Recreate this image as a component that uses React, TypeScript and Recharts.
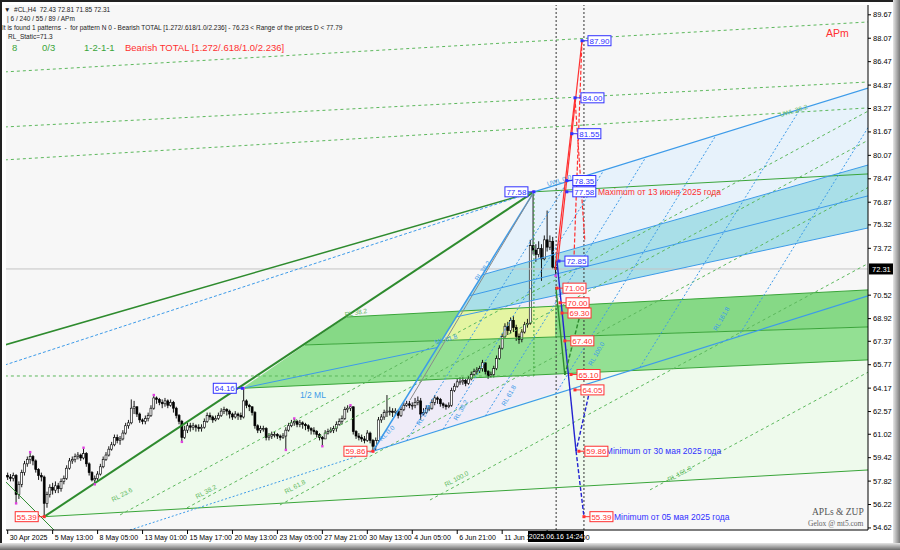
import React from "react";
import {
  ComposedChart,
  XAxis,
  YAxis,
  Bar,
  Area,
  Scatter,
  ReferenceLine,
  ReferenceDot,
} from "recharts";

// H4 candles, index 0 = 30 Apr 2025
const firstOpen = 58.2;
const closes = [
  58.1, 58.0, 58.2, 56.9, 57.6, 58.4, 59.0, 59.3, 59.5, 59.2, 58.6, 58.2, 58.1,
  56.3, 56.9, 57.4, 57.2, 57.5, 57.3, 57.8, 58.0, 58.7, 59.2, 59.3, 59.5, 59.6,
  59.4, 59.7, 59.0, 58.4, 57.9, 58.0, 58.3, 58.8, 59.3, 59.6, 60.0, 60.3, 60.8,
  60.6, 60.7, 61.1, 61.6, 61.8, 62.8, 62.9, 62.4, 62.0, 61.9, 62.1, 62.3, 62.8,
  63.5, 63.4, 63.2, 63.1, 63.3, 63.0, 63.2, 62.8, 62.3, 61.9, 60.8, 61.3, 61.6,
  61.5, 61.6, 61.5, 61.4, 61.5, 61.9, 62.3, 62.2, 62.0, 62.1, 62.3, 62.6, 62.7,
  62.6, 62.4, 62.2, 62.4, 62.3, 62.2, 63.3, 63.0, 62.9, 62.5, 61.6, 61.3, 61.4,
  61.4, 60.8, 60.9, 61.0, 61.0, 60.9, 60.8, 60.9, 61.3, 61.6, 61.8, 61.9, 61.7,
  61.8, 61.7, 61.6, 61.4, 61.3, 61.2, 61.0, 60.8, 60.7, 61.1, 61.2, 61.3, 61.4,
  61.7, 61.9, 62.1, 62.7, 62.8, 62.9, 61.2, 60.9, 60.8, 60.7, 60.6, 61.1, 60.6,
  60.2, 60.6, 62.0, 62.2, 62.5, 62.6, 62.6, 62.5, 62.6, 62.3, 62.7, 63.0, 63.1,
  63.0, 63.0, 63.2, 63.3, 62.4, 62.5, 62.8, 62.8, 63.2, 63.5, 63.4, 63.1, 63.0,
  62.9, 63.0, 64.0, 64.3, 64.6, 64.6, 64.7, 64.5, 64.8, 65.1, 65.3, 65.4, 65.5,
  65.9, 65.3, 65.0, 65.1, 65.5, 66.2, 66.9, 67.7, 68.4, 68.1, 68.8, 68.3, 67.7,
  67.5, 68.0, 68.5, 68.6, 73.9, 73.6, 73.3, 73.7, 73.0, 74.3, 73.8, 74.2, 72.43, 72.31,
];
const highs = [
  58.4, 58.3, 58.4, 58.3, 57.8, 58.6, 59.2, 59.5, 59.8, 59.6, 59.3, 58.7, 58.4,
  58.2, 57.1, 57.6, 57.7, 57.8, 57.7, 58.0, 58.2, 58.9, 59.4, 59.5, 59.7, 59.8,
  59.7, 60.1, 59.8, 59.1, 58.5, 58.2, 58.5, 59.0, 59.5, 59.8, 60.2, 60.5, 61.0,
  61.0, 60.9, 61.3, 61.8, 62.0, 63.4, 63.3, 62.9, 62.5, 62.1, 62.3, 62.5, 63.0,
  63.7, 63.6, 63.5, 63.4, 63.5, 63.4, 63.4, 63.3, 62.9, 62.4, 62.0, 61.6, 61.8,
  61.8, 61.8, 61.7, 61.7, 61.7, 62.1, 62.5, 62.5, 62.3, 62.3, 62.5, 62.8, 62.9,
  62.8, 62.7, 62.5, 62.6, 62.5, 62.5, 64.16, 63.4, 63.1, 62.9, 62.6, 61.7, 61.6,
  61.6, 61.5, 61.1, 61.2, 61.2, 61.1, 61.0, 61.1, 61.5, 61.8, 62.0, 62.1, 62.0,
  62.0, 61.9, 61.8, 61.7, 61.5, 61.5, 61.3, 61.1, 60.9, 61.3, 61.4, 61.5, 61.6,
  61.9, 62.1, 62.3, 62.9, 63.0, 63.0, 62.9, 61.3, 61.1, 61.0, 60.9, 61.3, 61.2,
  60.7, 60.8, 62.2, 62.4, 62.7, 63.7, 62.9, 62.8, 62.8, 62.7, 62.9, 63.2, 63.3,
  63.3, 63.2, 63.5, 63.6, 63.5, 62.8, 63.0, 63.0, 63.4, 63.7, 63.6, 63.5, 63.2,
  63.1, 63.2, 64.2, 64.5, 64.8, 64.9, 64.9, 64.8, 65.0, 65.3, 65.5, 65.6, 65.7,
  66.1, 65.9, 65.4, 65.3, 65.7, 66.4, 67.1, 67.9, 68.6, 68.7, 69.0, 69.1, 68.5,
  67.9, 68.2, 68.7, 68.9, 74.3, 77.58, 74.0, 74.2, 74.0, 74.6, 76.3, 74.6, 74.5, 72.81,
];
const lows = [
  57.9, 57.8, 57.8, 56.3, 56.6, 57.4, 58.2, 58.8, 59.0, 58.9, 58.4, 57.9, 57.8,
  55.39, 56.0, 56.7, 56.9, 57.0, 57.0, 57.1, 57.6, 57.9, 58.6, 59.0, 59.1, 59.3,
  59.2, 59.3, 58.8, 58.2, 57.8, 57.6, 57.8, 58.2, 58.7, 59.2, 59.5, 59.9, 60.2,
  60.4, 60.3, 60.6, 61.0, 61.4, 61.7, 62.4, 62.2, 61.8, 61.7, 61.7, 61.9, 62.2,
  62.7, 63.1, 63.0, 62.8, 62.9, 62.8, 62.9, 62.5, 62.1, 61.7, 60.5, 60.7, 61.1,
  61.2, 61.3, 61.2, 61.2, 61.2, 61.4, 61.8, 62.0, 61.8, 61.9, 62.0, 62.2, 62.4,
  62.3, 62.1, 62.0, 62.1, 62.0, 62.0, 62.1, 62.8, 62.6, 62.3, 61.4, 61.1, 61.1,
  61.2, 60.6, 60.6, 60.7, 60.8, 60.7, 60.6, 60.7, 59.95, 61.2, 61.5, 61.6, 61.5,
  61.5, 61.4, 61.3, 61.2, 61.0, 61.0, 60.8, 60.6, 60.2, 60.8, 61.0, 61.1, 61.1,
  61.2, 61.6, 61.7, 62.0, 62.5, 62.6, 61.0, 60.7, 60.6, 60.5, 60.4, 60.5, 60.4,
  59.86, 59.9, 60.5, 61.8, 62.0, 62.2, 62.3, 62.2, 62.3, 62.1, 62.2, 62.6, 62.9,
  62.8, 62.7, 62.8, 63.0, 62.0, 62.3, 62.4, 62.6, 62.7, 63.0, 63.1, 62.9, 62.8,
  62.7, 62.8, 62.9, 63.9, 64.2, 64.4, 64.4, 64.3, 64.4, 64.7, 65.0, 65.1, 65.2,
  65.3, 65.1, 64.8, 64.9, 64.9, 65.4, 66.1, 66.8, 67.6, 67.8, 67.9, 68.0, 67.4,
  67.2, 67.3, 67.9, 68.3, 68.5, 73.3, 72.8, 73.1, 71.5, 72.9, 73.5, 73.6, 72.3, 71.85,
];

const dateTicks = [0, 16, 32, 48, 64, 80, 96, 112, 128, 144, 160, 176, 192];
const dateLabels = [
  "30 Apr 2025", "5 May 13:00", "8 May 05:00", "13 May 01:00", "15 May 17:00",
  "20 May 13:00", "23 May 05:00", "27 May 21:00", "30 May 13:00", "4 Jun 05:00",
  "6 Jun 21:00", "11 Jun 13:00", "16 Jun 05:00",
];
const priceTicks = [
  54.62, 56.22, 57.82, 59.42, 61.02, 62.57, 64.17, 65.77, 67.37, 68.92, 70.52,
  73.72, 75.32, 76.87, 78.47, 80.07, 81.67, 83.27, 84.87, 86.47, 88.07, 89.67,
];
const lastPrice = 72.31;

// swing points marked in magenta
const swings = [
  [3, 56.3], [8, 59.8], [27, 60.1], [31, 57.6], [52, 63.7], [62, 60.5], [84, 64.16],
  [99, 59.95], [102, 62.1], [112, 60.2], [122, 63.0], [130, 59.86], [187, 77.58], [195, 71.85],
];

// filled zones: upper chain / lower chain (bar, price)
const zones = [
  { fill: "#eefaec", up: [[13, 55.39], [83.5, 64.16], [306.2, 66.1]], lo: [[13, 55.39], [306.2, 58.58]] },
  { fill: "#efecf8", up: [[130, 59.86], [187.3, 77.58], [195.8, 72.79], [197.6, 64.05]], lo: [[130, 59.86], [197.6, 64.05]] },
  { fill: "#e7f2fb", up: [[168.8, 71.9], [187.3, 77.58], [306.2, 84.67]], lo: [[168.8, 71.9], [306.2, 79.41]] },
  { fill: "#a9dfe8", up: [[159.5, 69.03], [168.8, 71.9], [306.2, 79.41]], lo: [[159.5, 69.03], [306.2, 75.11]] },
  { fill: "#86d986", up: [[105.8, 67.12], [120.7, 69.03], [306.2, 70.88]], lo: [[105.8, 67.12], [306.2, 68.35]] },
  { fill: "#93e093", up: [[83.5, 64.16], [105.8, 67.12], [306.2, 68.35]], lo: [[83.5, 64.16], [306.2, 66.1]] },
  { fill: "#e4f5a2", up: [[154.5, 67.42], [161.0, 69.43], [194.8, 69.77]], lo: [[154.5, 67.42], [194.8, 67.67]] },
];

const GREEN = "#2e8b2e";
const LGREEN = "#3aa53a";
const DGREEN = "#5cb85c";
const BLUE = "#3d9be9";
const DBLUE = "#2323d0";
const RED = "#ff3030";

const lines = [
  { p: [[13, 55.39], [187.3, 77.58]], c: GREEN, w: 2 },
  { p: [[-1, 67.12], [187.3, 77.58]], c: GREEN, w: 1.5 },
  { p: [[-1, 65.75], [187.3, 77.58]], c: BLUE, w: 1, d: "3 2" },
  { p: [[-1, 57.83], [16.8, 54.42]], c: GREEN, w: 1 },
  { p: [[13, 55.39], [306.2, 58.58]], c: LGREEN, w: 1 },
  { p: [[187.3, 77.58], [306.2, 78.8]], c: LGREEN, w: 1 },
  { p: [[120.7, 69.03], [306.2, 70.88]], c: LGREEN, w: 1 },
  { p: [[105.8, 67.12], [306.2, 68.35]], c: LGREEN, w: 1 },
  { p: [[83.5, 64.16], [306.2, 66.1]], c: LGREEN, w: 1 },
  { p: [[-1, 65.0], [187.3, 65.0]], c: DGREEN, w: 1, d: "3 3" },
  { p: [[-1, 85.77], [306.2, 89.18]], c: DGREEN, w: 1, d: "3 3" },
  { p: [[-1, 82.01], [306.2, 85.08]], c: DGREEN, w: 1, d: "3 3" },
  { p: [[-1, 79.76], [306.2, 83.31]], c: DGREEN, w: 1, d: "3 3" },
  { p: [[40, 55.51], [306.2, 83.09]], c: DGREEN, w: 1, d: "3 3" },
  { p: [[63.8, 55.99], [306.2, 81.1]], c: DGREEN, w: 1, d: "3 3" },
  { p: [[96.9, 56.19], [306.2, 77.87]], c: DGREEN, w: 1, d: "3 3" },
  { p: [[150.3, 56.53], [306.2, 72.68]], c: DGREEN, w: 1, d: "3 3" },
  { p: [[228.6, 57.22], [306.2, 65.26]], c: DGREEN, w: 1, d: "3 3" },
  { p: [[187.3, 65.0], [187.3, 77.58]], c: LGREEN, w: 1, d: "2 2" },
  // blue fork
  { p: [[130, 59.86], [187.3, 77.58]], c: BLUE, w: 1.5 },
  { p: [[143.2, 63.36], [187.3, 77.58]], c: "#8a8a8a", w: 1 },
  { p: [[43.5, 54.48], [130, 59.86]], c: BLUE, w: 1, d: "2 2" },
  { p: [[130, 59.86], [306.2, 70.47]], c: BLUE, w: 1.2 },
  { p: [[187.3, 77.58], [306.2, 84.67]], c: BLUE, w: 1.2 },
  { p: [[168.8, 71.9], [306.2, 79.41]], c: BLUE, w: 1 },
  { p: [[164.2, 70.47], [306.2, 77.3]], c: BLUE, w: 1 },
  { p: [[159.5, 69.03], [306.2, 75.11]], c: BLUE, w: 1 },
  { p: [[83.5, 64.16], [152.8, 66.94]], c: BLUE, w: 1 },
  { p: [[142, 60.58], [199.3, 78.29]], c: BLUE, w: 1, d: "2 2" },
  { p: [[155, 61.37], [212.2, 79.07]], c: BLUE, w: 1, d: "2 2" },
  { p: [[170, 62.27], [227.2, 79.97]], c: BLUE, w: 1, d: "2 2" },
  { p: [[195, 63.78], [252.1, 81.44]], c: BLUE, w: 1, d: "2 2" },
  { p: [[225, 65.58], [282.0, 83.22]], c: BLUE, w: 1, d: "2 2" },
  { p: [[260, 67.69], [317, 85.3]], c: BLUE, w: 1, d: "2 2" },
  // projections
  { p: [[195.8, 72.79], [204.4, 87.9]], c: RED, w: 1.2 },
  { p: [[194.8, 72.24], [201.9, 84.0]], c: RED, w: 1.2 },
  { p: [[204.4, 87.9], [201.5, 72.79]], c: RED, w: 1.2, d: "4 2" },
  { p: [[201.9, 84.0], [205.4, 74.29]], c: RED, w: 1.2, d: "4 2" },
  { p: [[195.5, 72.85], [202.3, 59.86]], c: DBLUE, w: 1.4 },
  { p: [[202.3, 59.86], [205.1, 55.39]], c: DBLUE, w: 1.4, d: "4 2" },
  { p: [[207.2, 64.05], [202.3, 59.86]], c: DBLUE, w: 1.4, d: "4 2" },
  { p: [[195.1, 71.08], [198.3, 65.07]], c: GREEN, w: 1.4 },
  { p: [[198.3, 65.07], [203.7, 69.17]], c: GREEN, w: 1.4, d: "4 2" },
];

const boxes = [
  { x: 204.4, y: 87.9, t: "87.90", c: "blue", side: 1 },
  { x: 201.9, y: 84.0, t: "84.00", c: "blue", side: 1 },
  { x: 200.8, y: 81.55, t: "81.55", c: "blue", side: 1 },
  { x: 199.0, y: 78.35, t: "78.35", c: "blue", side: 1 },
  { x: 199.0, y: 77.58, t: "77.58", c: "blue", side: 1 },
  { x: 196.2, y: 72.85, t: "72.85", c: "blue", side: 1 },
  { x: 195.5, y: 71.0, t: "71.00", c: "red", side: 1 },
  { x: 196.6, y: 70.0, t: "70.00", c: "red", side: 1 },
  { x: 197.3, y: 69.3, t: "69.30", c: "red", side: 1 },
  { x: 198.3, y: 67.4, t: "67.40", c: "red", side: 1 },
  { x: 200.5, y: 65.1, t: "65.10", c: "red", side: 1 },
  { x: 201.9, y: 64.05, t: "64.05", c: "red", side: 1 },
  { x: 203.3, y: 59.86, t: "59.86", c: "red", side: 1 },
  { x: 205.1, y: 55.39, t: "55.39", c: "red", side: 1 },
  { x: 13, y: 55.39, t: "55.39", c: "red", side: -1 },
  { x: 130, y: 59.86, t: "59.86", c: "red", side: -1 },
  { x: 83.5, y: 64.16, t: "64.16", c: "blue", side: -1 },
  { x: 187.3, y: 77.58, t: "77.58", c: "blue", side: -1 },
];

const notes = [
  { x: 210.1, y: 77.58, t: "Maximum от 13 июня 2025 года", c: RED, a: 0, s: 8.5 },
  { x: 212.9, y: 59.86, t: "Minimum от 30 мая 2025 года", c: "#3030ff", a: 0, s: 8.5 },
  { x: 215.8, y: 55.39, t: "Minimum от 05 мая 2025 года", c: "#3030ff", a: 0, s: 8.5 },
  { x: 37.1, y: 56.53, t: "RL 23.6", c: DGREEN, a: -28, s: 6.5 },
  { x: 67.0, y: 56.74, t: "RL 38.2", c: DGREEN, a: -28, s: 6.5 },
  { x: 98.7, y: 57.08, t: "RL 61.8", c: DGREEN, a: -28, s: 6.5 },
  { x: 155.6, y: 57.56, t: "RL 100.0", c: DGREEN, a: -28, s: 6.5 },
  { x: 235.0, y: 57.9, t: "RL 161.8", c: DGREEN, a: -28, s: 6.5 },
  { x: 120, y: 69.2, t: "RL 38.2", c: DGREEN, a: -10, s: 6.5 },
  { x: 274.8, y: 82.83, t: "UWL 38.2", c: DGREEN, a: -17, s: 6.5 },
  { x: 104, y: 63.7, t: "1/2 ML", c: BLUE, a: 0, s: 8.5 },
  { x: 192, y: 78.1, t: "UWL 0.0", c: BLUE, a: -17, s: 6.5 },
  { x: 152, y: 67.3, t: "ML 61.8", c: BLUE, a: -15, s: 6.5 },
  { x: 132.5, y: 60.63, t: "RL 0.0", c: BLUE, a: -45, s: 6.5 },
  { x: 146, y: 61.66, t: "RL 23.6", c: BLUE, a: -60, s: 6.5 },
  { x: 159.2, y: 62.0, t: "RL 38.2", c: BLUE, a: -60, s: 6.5 },
  { x: 176.3, y: 63.0, t: "RL 61.8", c: BLUE, a: -60, s: 6.5 },
  { x: 166.7, y: 71.56, t: "RL 38.2", c: BLUE, a: -55, s: 6.5 },
  { x: 207.2, y: 65.75, t: "RL 100.0", c: BLUE, a: -60, s: 6.5 },
  { x: 251.7, y: 68.14, t: "RL 161.8", c: BLUE, a: -60, s: 6.5 },
];

const candles = closes.map((c, i) => {
  const o = i === 0 ? firstOpen : closes[i - 1];
  const h = Math.max(highs[i], o, c);
  const l = Math.min(lows[i], o, c);
  return { x: i, o, c, h, l, hl: [l, h] };
});

function band(up: number[][], lo: number[][]) {
  const at = (chain: number[][], x: number) => {
    for (let i = 0; i < chain.length - 1; i++) {
      const [x0, y0] = chain[i];
      const [x1, y1] = chain[i + 1];
      if (x >= x0 && x <= x1) return x1 === x0 ? y0 : y0 + ((y1 - y0) * (x - x0)) / (x1 - x0);
    }
    return chain[chain.length - 1][1];
  };
  const xs = Array.from(new Set([...up, ...lo].map((p) => p[0]))).sort((a, b) => a - b);
  return xs.map((x) => ({ x, r: [at(lo, x), at(up, x)] }));
}

const FONT = "'Liberation Sans', Arial, sans-serif";

function Candle(props: any) {
  const { x, y, width, height, payload } = props;
  if (x == null || y == null) return null;
  const top = Math.min(y, y + height);
  const hh = Math.abs(height);
  const { o, c, h, l } = payload;
  const yOf = (v: number) => (h === l ? top : top + ((h - v) / (h - l)) * hh);
  const cx = x + width / 2;
  const bt = yOf(Math.max(o, c));
  const bb = yOf(Math.min(o, c));
  const bull = c >= o;
  return (
    <g>
      <line x1={cx} x2={cx} y1={top} y2={top + hh} stroke="#000" strokeWidth={0.9} />
      <rect x={cx - 1} y={bt} width={2} height={Math.max(bb - bt, 0.8)} fill={bull ? "#fff" : "#000"} stroke="#000" strokeWidth={0.6} />
    </g>
  );
}

function DateTick(props: any) {
  const { x, y, index } = props;
  return (
    <text x={x + 2} y={y + 4} fontSize={7} fontFamily={FONT} fill="#000" textAnchor="start">
      {dateLabels[index] ?? ""}
    </text>
  );
}

function PriceTick(props: any) {
  const { x, y, payload } = props;
  return (
    <text x={x} y={y + 2.5} fontSize={7.5} fontFamily={FONT} fill="#000" textAnchor="start">
      {payload.value.toFixed(2)}
    </text>
  );
}

function makeBox(b: any) {
  return (p: any) => {
    const { cx, cy } = p;
    const col = b.c === "red" ? RED : "#3030ff";
    const w = 23;
    const bx = b.side > 0 ? cx + 6 : cx - 6 - w;
    return (
      <g>
        <line x1={cx} x2={b.side > 0 ? bx : bx + w} y1={cy} y2={cy} stroke={col} strokeWidth={1} />
        <rect x={cx - 1.5} y={cy - 1.5} width={3} height={3} fill={col} />
        <rect x={bx} y={cy - 5} width={w} height={10} fill="#fff" stroke={col} strokeWidth={1} />
        <text x={bx + w / 2} y={cy + 3} fontSize={8} fontFamily={FONT} fill={col} textAnchor="middle">
          {b.t}
        </text>
      </g>
    );
  };
}

function makeNote(n: any) {
  return (p: any) => {
    const { cx, cy } = p;
    return (
      <text
        x={cx}
        y={cy + n.s * 0.35}
        fontSize={n.s}
        fontFamily={FONT}
        fill={n.c}
        textAnchor="start"
        transform={n.a ? `rotate(${n.a} ${cx} ${cy})` : undefined}
      >
        {n.t}
      </text>
    );
  };
}

function PriceNow(props: any) {
  const { viewBox } = props;
  const x = viewBox.x + viewBox.width;
  const y = viewBox.y;
  return (
    <g>
      <rect x={x + 1} y={y - 5.5} width={27} height={11} fill="#000" />
      <text x={x + 4} y={y + 3} fontSize={7.5} fontFamily={FONT} fill="#fff">
        {lastPrice.toFixed(2)}
      </text>
    </g>
  );
}

const headStyle: React.CSSProperties = {
  position: "absolute",
  fontFamily: FONT,
  fontSize: 6.5,
  lineHeight: "8px",
  whiteSpace: "pre",
  color: "#222",
};

export default function App() {
  return (
    <div style={{ width: 900, height: 550, position: "relative", overflow: "hidden", background: "#fff" }}>
      <style>{"body{margin:0}"}</style>
      <div style={{ position: "absolute", left: 6, top: 5, width: 862, height: 525, background: "#f7f7f7" }} />
      <ComposedChart
        width={900}
        height={550}
        data={candles}
        margin={{ top: 5, right: 0, bottom: 0, left: 6 }}
        style={{ position: "absolute", left: 0, top: 0 }}
      >
        <XAxis
          dataKey="x"
          type="number"
          domain={[-0.6, 306.2]}
          allowDataOverflow
          ticks={dateTicks}
          interval={0}
          height={20}
          tick={<DateTick />}
          tickLine={{ stroke: "#000" }}
          tickSize={4}
          axisLine={{ stroke: "#000" }}
        />
        <YAxis
          orientation="right"
          width={32}
          domain={[54.48, 90.34]}
          allowDataOverflow
          ticks={priceTicks}
          interval={0}
          tick={<PriceTick />}
          tickSize={3}
          tickMargin={2}
          tickLine={{ stroke: "#000" }}
          axisLine={{ stroke: "#000" }}
        />
        {zones.map((z, i) => (
          <Area
            key={"z" + i}
            data={band(z.up, z.lo)}
            dataKey="r"
            type="linear"
            stroke="none"
            fill={z.fill}
            fillOpacity={1}
            dot={false}
            activeDot={false}
            isAnimationActive={false}
          />
        ))}
        <ReferenceLine y={lastPrice} stroke="#c4c4c4" strokeWidth={1} label={<PriceNow />} />
        <ReferenceLine x={195.2} stroke="#333" strokeDasharray="2 2" />
        <ReferenceLine x={205.1} stroke="#333" strokeDasharray="2 2" />
        {lines.map((l, i) => (
          <ReferenceLine
            key={"l" + i}
            segment={[
              { x: l.p[0][0], y: l.p[0][1] },
              { x: l.p[1][0], y: l.p[1][1] },
            ]}
            stroke={l.c}
            strokeWidth={l.w}
            strokeDasharray={l.d}
            ifOverflow="hidden"
          />
        ))}
        <Bar dataKey="hl" barSize={2} shape={<Candle />} isAnimationActive={false} />
        <Scatter
          data={swings.map(([x, y]) => ({ x, y }))}
          dataKey="y"
          shape={(p: any) => <rect x={p.cx - 1.2} y={p.cy - 1.2} width={2.4} height={2.4} fill="#e040e0" />}
          isAnimationActive={false}
        />
        {notes.map((n, i) => (
          <ReferenceDot key={"n" + i} x={n.x} y={n.y} r={0} shape={makeNote(n)} />
        ))}
        {boxes.map((b, i) => (
          <ReferenceDot key={"b" + i} x={b.x} y={b.y} r={0} shape={makeBox(b)} />
        ))}
      </ComposedChart>

      <div style={{ ...headStyle, left: 4, top: 6 }}>{"▼  #CL,H4  72.43 72.81 71.85 72.31"}</div>
      <div style={{ ...headStyle, left: 7, top: 15 }}>{"| 6 / 240 / 55 / 89 / APm"}</div>
      <div style={{ ...headStyle, left: 2, top: 24 }}>
        {"It is found 1 patterns  -  for pattern N 0 - Bearish TOTAL [1.272/.618/1.0/2.236] - 76.23 < Range of the prices D < 77.79"}
      </div>
      <div style={{ ...headStyle, left: 8, top: 33 }}>{"RL_Static=71.3"}</div>
      <div style={{ ...headStyle, fontSize: 9.5, lineHeight: "11px", left: 12, top: 42, color: LGREEN }}>8</div>
      <div style={{ ...headStyle, fontSize: 9.5, lineHeight: "11px", left: 42, top: 42, color: LGREEN }}>0/3</div>
      <div style={{ ...headStyle, fontSize: 9.5, lineHeight: "11px", left: 84, top: 42, color: LGREEN }}>1-2-1-1</div>
      <div style={{ ...headStyle, fontSize: 9.5, lineHeight: "11px", left: 125, top: 42, color: RED }}>
        {"Bearish TOTAL [1.272/.618/1.0/2.236]"}
      </div>
      <div style={{ ...headStyle, fontSize: 10.5, lineHeight: "12px", left: 826, top: 27, color: RED }}>APm</div>
      <div style={{ ...headStyle, fontFamily: "'Liberation Serif', serif", fontSize: 9.5, lineHeight: "11px", left: 812, top: 507, color: "#555" }}>
        APLs &amp; ZUP
      </div>
      <div style={{ ...headStyle, fontFamily: "'Liberation Serif', serif", fontSize: 7.5, lineHeight: "9px", left: 808, top: 519, color: "#666" }}>
        Gelox @ mt5.com
      </div>
      <div
        style={{
          ...headStyle,
          left: 528,
          top: 531,
          width: 56,
          height: 11,
          lineHeight: "11px",
          fontSize: 7,
          background: "#000",
          color: "#fff",
          textAlign: "center",
        }}
      >
        2025.06.16 14:24
      </div>
      <div style={{ position: "absolute", left: 0, top: 0, width: 900, height: 2, background: "#222" }} />
      <div style={{ position: "absolute", left: 0, top: 0, width: 2, height: 550, background: "#222" }} />
      <div style={{ position: "absolute", left: 893, top: 0, width: 7, height: 550, background: "linear-gradient(to right, #e6e6e6, #7a7a7a)" }} />
      <div style={{ position: "absolute", left: 0, top: 543, width: 900, height: 7, background: "linear-gradient(to bottom, #e6e6e6, #6a6a6a)" }} />
    </div>
  );
}
